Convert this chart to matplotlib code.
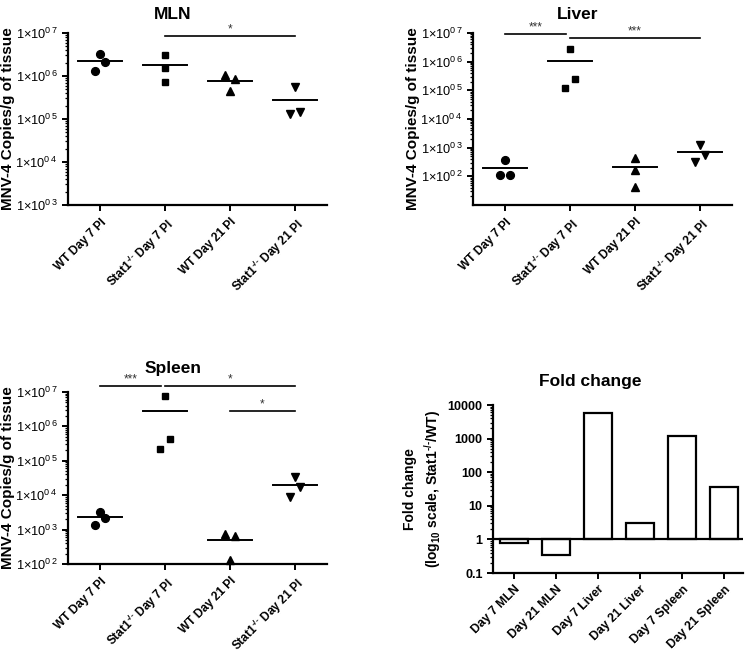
import numpy as np
import matplotlib
matplotlib.use("Agg")
import matplotlib.pyplot as plt
from matplotlib.ticker import FixedLocator, LogLocator, NullFormatter, FuncFormatter

plt.rcParams["font.family"] = ["Liberation Sans", "DejaVu Sans"]
plt.rcParams["font.weight"] = "bold"
plt.rcParams["mathtext.fontset"] = "custom"
plt.rcParams["mathtext.rm"] = "Liberation Sans"
plt.rcParams["mathtext.bf"] = "Liberation Sans:bold"
plt.rcParams["mathtext.default"] = "regular"

# data
groups = ["WT Day 7 PI", r"Stat1$^{\text{-/-}}$ Day 7 PI",
          "WT Day 21 PI", r"Stat1$^{\text{-/-}}$ Day 21 PI"]

mln = [[3.2e6, 2.1e6, 1.3e6], [3.1e6, 1.55e6, 7.2e5],
       [1.05e6, 8.5e5, 4.5e5], [5.5e5, 1.3e5, 1.45e5]]
liver = [[360, 107, 107], [2.8e6, 2.5e5, 1.2e5],
         [420, 160, 42], [1200, 310, 540]]
spleen = [[3.3e3, 2.2e3, 1.35e3], [7.6e6, 4.3e5, 2.2e5],
          [740, 650, 130], [3.4e4, 1.74e4, 9.0e3]]

fold_labels = ["Day 7 MLN", "Day 21 MLN", "Day 7 Liver",
               "Day 21 Liver", "Day 7 Spleen", "Day 21 Spleen"]
fold_values = [0.76, 0.35, 5700, 3.0, 1200, 36]

# significance brackets: (start group, end group, height, text)
mln_sig = [(1, 3, 8.5e6, "*")]
liver_sig = [(0, 1, 9.2e6, "***"), (1, 3, 6.7e6, "***")]
spleen_sig = [(0, 1, 1.5e7, "***"), (1, 3, 1.5e7, "*"), (2, 3, 2.8e6, "*")]

# horizontal spread of the points within each column (layout only)
spread = {
    "MLN": [[0, 1, -1], [0, 0, 0], [-1, 1, 0], [0, -1, 1]],
    "Liver": [[0, -1, 1], [0, 1, -1], [0, 0, 0], [0, -1, 1]],
    "Spleen": [[0, 1, -1], [0, 1, -1], [-1, 1, 0], [0, 1, -1]],
}
markers = ["o", "s", "^", "v"]

W, H = 747, 654
fig = plt.figure(figsize=(W / 100, H / 100), dpi=100)


def box(left, top, right, bottom):
    return [left / W, 1 - bottom / H, (right - left) / W, (bottom - top) / H]


def sci(v, pos):
    e = int(round(np.log10(v)))
    return r"1$\times$10$^{0\,%d}$" % e


def style(ax):
    for s in ["top", "right"]:
        ax.spines[s].set_visible(False)
    for s in ["left", "bottom"]:
        ax.spines[s].set_linewidth(1.6)
    ax.tick_params(axis="both", which="major", length=4, width=1.4, direction="out")
    ax.tick_params(axis="y", which="minor", length=2.2, width=0.9, direction="out")
    ax.tick_params(axis="x", which="minor", length=0)


def scatter_panel(rect, title, data, sig, ylo, yticks, pad):
    ax = fig.add_axes(rect)
    style(ax)
    ax.set_yscale("log")
    for i, vals in enumerate(data):
        xs = [i + 0.078 * s for s in spread[title][i]]
        ax.plot(xs, vals, linestyle="none", marker=markers[i], color="black",
                markersize=5.6 if markers[i] != "s" else 5.0, clip_on=False)
        m = np.mean(vals)
        ax.plot([i - 0.34, i + 0.34], [m, m], color="black", lw=1.4)
    for a, b, y, txt in sig:
        x0 = a
        x1 = b - 0.06 if any(s[0] == b for s in sig) else b
        ax.plot([x0, x1], [y, y], color="black", lw=1.2, clip_on=False)
        ax.text((x0 + x1) / 2, y * 1.05, txt, ha="center", va="bottom",
                fontsize=8.5, fontweight="normal", color="#333333")
    ax.set_xlim(-0.5, 3.5)
    ax.set_ylim(ylo, 1e7)
    ax.yaxis.set_major_locator(FixedLocator(yticks))
    ax.yaxis.set_major_formatter(FuncFormatter(sci))
    ax.yaxis.set_minor_locator(LogLocator(base=10, subs=np.arange(2, 10), numticks=20))
    ax.yaxis.set_minor_formatter(NullFormatter())
    for lab in ax.get_yticklabels():
        lab.set_fontweight("normal")
        lab.set_fontsize(9.2)
    ax.set_xticks(range(len(groups)))
    ax.set_xticklabels(groups, rotation=45, ha="right", va="top",
                       rotation_mode="anchor", fontsize=8.6)
    ax.tick_params(axis="x", pad=4)
    ax.set_ylabel("MNV-4 Copies/g of tissue", fontsize=11, fontweight="bold")
    ax.yaxis.set_label_coords(-0.205, 0.5)
    ax.set_title(title, fontsize=12.5, fontweight="bold", x=0.405, pad=pad)
    return ax


scatter_panel(box(68, 33, 327, 205), "MLN", mln, mln_sig, 1e3,
              [1e3, 1e4, 1e5, 1e6, 1e7], 10)
scatter_panel(box(473, 33, 732, 205), "Liver", liver, liver_sig, 1e1,
              [1e2, 1e3, 1e4, 1e5, 1e6, 1e7], 10)
scatter_panel(box(68, 392, 327, 564), "Spleen", spleen, spleen_sig, 1e2,
              [1e2, 1e3, 1e4, 1e5, 1e6, 1e7], 14)

# fold change bar chart
ax = fig.add_axes(box(493, 405, 743, 573))
style(ax)
ax.set_yscale("log")
x = np.arange(len(fold_values))
ax.bar(x, [v - 1 for v in fold_values], bottom=1, width=0.68,
       facecolor="white", edgecolor="black", linewidth=1.6, zorder=2)
ax.axhline(1, color="black", lw=1.6, zorder=3)
ax.set_xlim(-0.5, 5.45)
ax.set_ylim(0.1, 10000)
ax.yaxis.set_major_locator(FixedLocator([0.1, 1, 10, 100, 1000, 10000]))
ax.yaxis.set_major_formatter(FuncFormatter(lambda v, p: "%g" % v))
ax.yaxis.set_minor_locator(LogLocator(base=10, subs=np.arange(2, 10), numticks=20))
ax.yaxis.set_minor_formatter(NullFormatter())
for lab in ax.get_yticklabels():
    lab.set_fontsize(9)
ax.set_xticks(x)
ax.set_xticklabels(fold_labels, rotation=45, ha="right", va="top",
                   rotation_mode="anchor", fontsize=8.8)
ax.set_ylabel("Fold change\n" + r"(log$_{10}$ scale, Stat1$^{\text{-/-}}$/WT)",
              fontsize=10, fontweight="bold", linespacing=1.3)
ax.yaxis.set_label_coords(-0.2, 0.5)
ax.set_title("Fold change", fontsize=12.5, fontweight="bold", x=0.39, pad=14)

fig.savefig("out.png", dpi=100)
